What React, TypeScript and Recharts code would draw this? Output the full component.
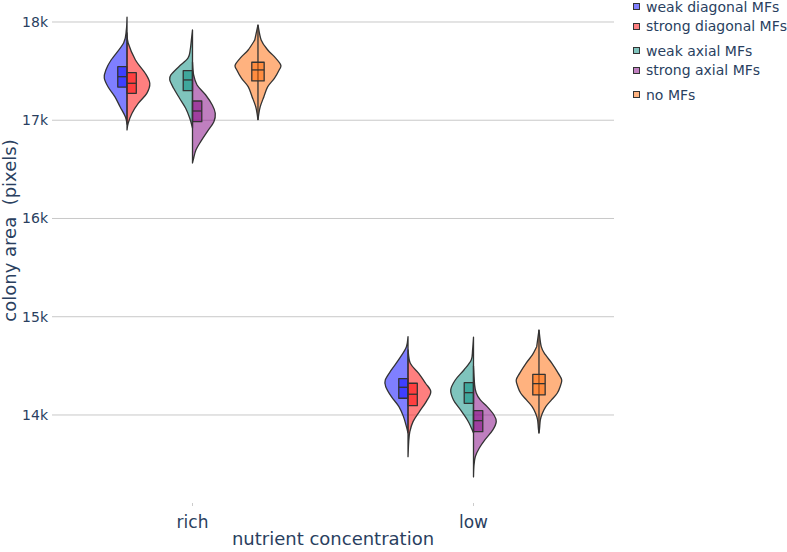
import React from "react";
import { ScatterChart, Scatter, XAxis, YAxis, CartesianGrid } from "recharts";

const categories = ["rich", "low"];
const yTicks = [14000, 15000, 16000, 17000, 18000];

// violin outlines: [colony area, relative density], top tip -> bottom tip
const weakDiagRich = [[18048, 0], [17919, 0.03], [17786, 0.15], [17613, 0.7], [17512, 0.93], [17430, 1], [17338, 0.83], [17237, 0.53], [17135, 0.3], [17033, 0.07], [16960, 0]];
const weakDiagLow = [[14797, 0], [14695, 0.07], [14583, 0.35], [14458, 0.73], [14356, 1], [14288, 0.98], [14186, 0.73], [14085, 0.4], [13983, 0.2], [13881, 0.07], [13817, 0]];
const strongDiagRich = [[17888, 0], [17786, 0.05], [17613, 0.37], [17478, 0.8], [17376, 1], [17274, 0.87], [17173, 0.5], [17071, 0.22], [16969, 0.05], [16901, 0]];
const strongDiagLow = [[14662, 0], [14526, 0.1], [14424, 0.47], [14323, 0.77], [14237, 1], [14136, 0.8], [14034, 0.5], [13932, 0.22], [13830, 0.08], [13728, 0.03], [13576, 0]];
const weakAxialRich = [[17919, 0], [17817, 0.05], [17715, 0.1], [17631, 0.2], [17545, 0.6], [17461, 0.95], [17410, 1], [17325, 0.83], [17224, 0.57], [17122, 0.3], [17020, 0.12], [16921, 0]];
const weakAxialLow = [[14791, 0], [14662, 0.04], [14560, 0.1], [14458, 0.42], [14356, 0.8], [14255, 1], [14153, 0.88], [14051, 0.57], [13949, 0.27], [13881, 0.12], [13817, 0]];
const strongAxialRich = [[17593, 0], [17461, 0.05], [17359, 0.2], [17257, 0.58], [17155, 0.87], [17071, 1], [16985, 0.94], [16884, 0.65], [16782, 0.36], [16697, 0.15], [16613, 0.05], [16565, 0]];
const strongAxialLow = [[14499, 0], [14305, 0.05], [14224, 0.12], [14153, 0.3], [14085, 0.6], [14000, 0.9], [13932, 1], [13848, 0.85], [13746, 0.5], [13661, 0.25], [13576, 0.08], [13481, 0.02], [13369, 0]];
const noMFsRich = [[17970, 0], [17817, 0.14], [17715, 0.43], [17647, 0.72], [17562, 1], [17512, 0.93], [17427, 0.72], [17342, 0.43], [17240, 0.26], [17138, 0.1], [17054, 0.03], [17003, 0]];
const noMFsLow = [[14865, 0], [14695, 0.1], [14611, 0.29], [14526, 0.57], [14424, 0.85], [14356, 1], [14288, 0.93], [14221, 0.8], [14153, 0.55], [14085, 0.3], [14017, 0.15], [13949, 0.06], [13814, 0]];

// boxes: [q1, median, q3] for rich, low
const weakDiagBox = [[17338, 17443, 17545], [14170, 14282, 14369]];
const strongDiagBox = [[17274, 17376, 17484], [14095, 14211, 14323]];
const weakAxialBox = [[17301, 17410, 17504], [14119, 14227, 14329]];
const strongAxialBox = [[16985, 17094, 17196], [13830, 13942, 14044]];
const noMFsBox = [[17400, 17512, 17590], [14204, 14319, 14414]];

type Side = "negative" | "positive" | "both";
type Pt = { x: number; y: number };

const series: {
  name: string; color: string; slot: number; side: Side; group: number;
  profiles: number[][][]; boxes: number[][];
}[] = [
  { name: "weak diagonal MFs", color: "#0000ff", slot: -1, side: "negative", group: 0, profiles: [weakDiagRich, weakDiagLow], boxes: weakDiagBox },
  { name: "strong diagonal MFs", color: "#ff0000", slot: -1, side: "positive", group: 0, profiles: [strongDiagRich, strongDiagLow], boxes: strongDiagBox },
  { name: "weak axial MFs", color: "#00897b", slot: 0, side: "negative", group: 1, profiles: [weakAxialRich, weakAxialLow], boxes: weakAxialBox },
  { name: "strong axial MFs", color: "#800080", slot: 0, side: "positive", group: 1, profiles: [strongAxialRich, strongAxialLow], boxes: strongAxialBox },
  { name: "no MFs", color: "#ff6600", slot: 1, side: "both", group: 2, profiles: [noMFsRich, noMFsLow], boxes: noMFsBox },
];

const SLOT_GAP = 0.233;
const HALF_W = 0.081;
const SPLIT_BOX = 0.033;
const FULL_BOX = 0.022;
const STROKE = "#333";
const TEXT = "#2a3f5f";

function violinPoints(profile: number[][], cx: number, side: Side): Pt[] {
  const right = profile.map(([y, d]) => ({ x: cx + d * HALF_W, y }));
  const left = profile.map(([y, d]) => ({ x: cx - d * HALF_W, y }));
  if (side === "negative") return left;
  if (side === "positive") return right;
  return [...right, ...left.slice(1, -1).reverse()];
}

function boxPoints(box: number[], cx: number, side: Side): { rect: Pt[]; median: Pt[] } {
  const [q1, med, q3] = box;
  const x0 = side === "negative" ? cx - SPLIT_BOX : side === "positive" ? cx : cx - FULL_BOX;
  const x1 = side === "negative" ? cx : side === "positive" ? cx + SPLIT_BOX : cx + FULL_BOX;
  return {
    rect: [{ x: x0, y: q3 }, { x: x1, y: q3 }, { x: x1, y: q1 }, { x: x0, y: q1 }],
    median: [{ x: x0, y: med }, { x: x1, y: med }],
  };
}

function smoothClosed(p: Pt[]) {
  let d = `M${p[0].x},${p[0].y}`;
  for (let i = 0; i < p.length - 1; i++) {
    const p0 = p[i - 1] || p[i];
    const p1 = p[i];
    const p2 = p[i + 1];
    const p3 = p[i + 2] || p2;
    const c1x = p1.x + (p2.x - p0.x) / 6;
    const c1y = p1.y + (p2.y - p0.y) / 6;
    const c2x = p2.x - (p3.x - p1.x) / 6;
    const c2y = p2.y - (p3.y - p1.y) / 6;
    d += `C${c1x},${c1y},${c2x},${c2y},${p2.x},${p2.y}`;
  }
  return d + "Z";
}

const outline = (fill: string, fillOpacity: number, smooth: boolean, closed: boolean) => (props: any) => {
  const pts: Pt[] = props.points || [];
  if (pts.length < 2) return <g />;
  const d = smooth ? smoothClosed(pts) : `M${pts[0].x},${pts[0].y}` + pts.slice(1).map((p) => `L${p.x},${p.y}`).join("") + (closed ? "Z" : "");
  return (
    <path d={d} fill={fill} fillOpacity={fillOpacity} stroke={STROKE} strokeWidth={1.3} strokeLinejoin="round" />
  );
};

const noShape = () => <g />;

const YTitle = ({ viewBox }: any) => (
  <text
    transform={`translate(${16}, ${viewBox.y + viewBox.height / 2 - 26}) rotate(-90)`}
    textAnchor="middle"
    fontSize={18}
    fill={TEXT}
    style={{ whiteSpace: "pre" }}
  >
    colony area  (pixels)
  </text>
);

export default function App() {
  const layers: React.ReactNode[] = [];
  series.forEach((s, si) => {
    s.profiles.forEach((profile, ci) => {
      const cx = ci + s.slot * SLOT_GAP;
      const b = boxPoints(s.boxes[ci], cx, s.side);
      layers.push(
        <Scatter key={`v${si}${ci}`} data={violinPoints(profile, cx, s.side)} shape={noShape}
          line={outline(s.color, 0.5, true, true)} isAnimationActive={false} />
      );
      if (s.side === "both") {
        layers.push(
          <Scatter key={`w${si}${ci}`} data={[{ x: cx, y: profile[0][0] }, { x: cx, y: profile[profile.length - 1][0] }]}
            shape={noShape} line={outline("none", 0, false, false)} isAnimationActive={false} />
        );
      }
      layers.push(
        <Scatter key={`b${si}${ci}`} data={b.rect} shape={noShape}
          line={outline(s.color, 0.5, false, true)} isAnimationActive={false} />
      );
      layers.push(
        <Scatter key={`m${si}${ci}`} data={b.median} shape={noShape}
          line={outline("none", 0, false, false)} isAnimationActive={false} />
      );
    });
  });

  return (
    <div style={{ position: "relative", width: 787, height: 552, fontFamily: "'DejaVu Sans', Verdana, sans-serif", background: "#fff" }}>
      <style>{"body{margin:0}"}</style>
      <ScatterChart width={787} height={552} margin={{ top: 10, right: 173, bottom: 0, left: 0 }}>
        <CartesianGrid vertical={false} stroke="#c8c8c8" horizontalValues={yTicks} />
        <XAxis
          type="number"
          dataKey="x"
          domain={[-0.5, 1.5]}
          ticks={[0, 1]}
          interval={0}
          tickFormatter={(v: number) => categories[v]}
          axisLine={false}
          tickLine={{ stroke: "#ccc" }}
          tickSize={3}
          tickMargin={10}
          height={49}
          tick={{ fontSize: 17, fill: TEXT }}
          label={{ value: "nutrient concentration", position: "insideBottom", offset: 7, fontSize: 18, fill: TEXT }}
        />
        <YAxis
          type="number"
          dataKey="y"
          domain={[13104, 18122]}
          ticks={yTicks}
          tickFormatter={(v: number) => `${v / 1000}k`}
          axisLine={false}
          tickLine={false}
          tickSize={0}
          tickMargin={4}
          width={52}
          tick={{ fontSize: 14, fill: TEXT }}
          label={YTitle}
        />
        {layers}
      </ScatterChart>
      {series.map((s, i) => (
        <div key={s.name} style={{ position: "absolute", left: 633, top: 6.5 + i * 19.5 + s.group * 5 - 9, height: 18, display: "flex", alignItems: "center", fontSize: 14, color: TEXT, whiteSpace: "nowrap" }}>
          <span style={{ display: "inline-block", width: 5, height: 5, border: `1px solid ${STROKE}`, background: s.color, marginRight: 6, boxShadow: "inset 0 0 0 5px rgba(255,255,255,0.5)" }} />
          <span>{s.name}</span>
        </div>
      ))}
    </div>
  );
}
